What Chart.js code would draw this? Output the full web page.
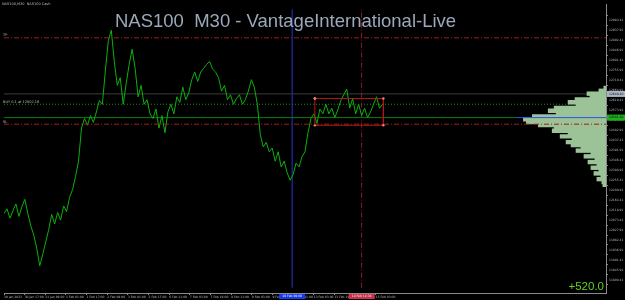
<!DOCTYPE html>
<html>
<head>
<meta charset="utf-8">
<script src="https://cdn.jsdelivr.net/npm/chart.js@4"></script>
<style>
  html, body { margin: 0; padding: 0; background: #000; overflow: hidden; }
  canvas { display: block; }
</style>
</head>
<body>
<canvas id="chart" width="625" height="300"></canvas>
<script>
// NAS100 M30 closes, one sample every few bars
const closes = [
  12103, 12125, 12082, 12116, 12147, 12090, 12134, 12168, 12103, 12047,
  12004, 11943, 11865, 11917, 11973, 12030, 12099, 12056, 12108, 12073,
  12138, 12112, 12177, 12212, 12272, 12342, 12493, 12537, 12506, 12550,
  12519, 12567, 12619, 12602, 12753, 12892, 12940, 12797, 12688, 12723,
  12602, 12697, 12784, 12853, 12766, 12636, 12688, 12602, 12623, 12558,
  12537, 12580, 12493, 12550, 12472, 12567, 12602, 12558, 12636, 12610,
  12680, 12623, 12654, 12714, 12749, 12706, 12749, 12766, 12784, 12797,
  12762, 12749, 12723, 12662, 12688, 12623, 12645, 12602, 12628, 12645,
  12602, 12623, 12662, 12714, 12680, 12602, 12463, 12407, 12428, 12385,
  12402, 12342, 12385, 12316, 12342, 12290, 12255, 12281, 12333, 12316,
  12363, 12385, 12472, 12537, 12558, 12515, 12580, 12558, 12602, 12558,
  12584, 12541, 12576, 12619, 12645, 12671, 12584, 12628, 12558, 12602,
  12550, 12584, 12541, 12567, 12602, 12636, 12584, 12602
];

const dateLabels = [
  "30 Jan 2023", "30 Jan 17:00", "31 Jan 09:00", "1 Feb 01:00", "1 Feb 17:00",
  "2 Feb 09:00", "3 Feb 01:00", "3 Feb 17:00", "6 Feb 11:00", "7 Feb 03:00",
  "7 Feb 19:00", "8 Feb 11:00", "9 Feb 03:00", "9 Feb 19:00", "10 Feb 11:00",
  "13 Feb 03:00", "13 Feb 19:00", "14 Feb 11:00", "15 Feb 03:00"
];
const xTickStep = 6.93;

const priceTicks = [
  12983.41, 12937.91, 12892.41, 12846.91, 12801.41, 12755.91, 12710.41,
  12664.91, 12619.41, 12573.91, 12528.41, 12482.91, 12437.41, 12391.91,
  12346.41, 12300.91, 12255.41, 12209.91, 12164.41, 12118.91, 12073.41,
  12027.91, 11982.41, 11936.91, 11891.41, 11845.91, 11800.41
];

// volume profile (price level -> volume)
const profilePrices = [
  12684, 12671, 12658, 12645, 12632, 12619, 12606, 12593, 12580, 12567,
  12554, 12541, 12528, 12515, 12502, 12489, 12476, 12463, 12450, 12437,
  12424, 12411, 12398, 12385, 12372, 12359, 12346, 12333, 12320, 12307,
  12294, 12281, 12268, 12255, 12242
];
const profileVolumes = [
  2, 7, 19, 16, 31, 38, 30, 52, 58, 50,
  74, 83, 80, 68, 52, 54, 38, 46, 34, 40,
  35, 25, 30, 15, 22, 11, 18, 9, 15, 7,
  12, 5, 9, 4, 3
];

// levels and objects on the chart
const tpLevel = 12905;
const slLevel = 12511;
const askLevel = 12649;
const buyLevel = 12602;
const bidLevel = 12541;
const rectBox = { from: 104.3, to: 127.3, high: 12628, low: 12506 };
const blueTime = 96.7;
const redTime = 120;

const X_MAX = 202, Y_MIN = 11765, Y_MAX = 13035;

const hline = (y, x0 = 0, x1 = X_MAX) => [{ x: x0, y }, { x: x1, y }];
const vline = (x) => [{ x, y: Y_MIN }, { x, y: Y_MAX }];
const flat = { type: "line", pointRadius: 0, borderWidth: 1, fill: false, tension: 0 };

const overlay = {
  id: "overlay",
  beforeDraw(chart) {
    const ctx = chart.ctx;
    ctx.save();
    ctx.fillStyle = "#000";
    ctx.fillRect(0, 0, chart.width, chart.height);
    ctx.restore();
  },
  afterDraw(chart) {
    const ctx = chart.ctx;
    const xs = chart.scales.x, ys = chart.scales.y;
    const area = chart.chartArea;
    ctx.save();

    ctx.fillStyle = "#9aa8ba";
    ctx.font = "18.5px 'Liberation Sans', Arial, sans-serif";
    ctx.textBaseline = "alphabetic";
    ctx.fillText("NAS100  M30 - VantageInternational-Live", 115, 26.7);

    ctx.fillStyle = "#bbbbbb";
    ctx.font = "3.5px 'DejaVu Sans', sans-serif";
    ctx.fillText("NAS100,M30  NAS100 Cash", 2, 5);
    ctx.fillText("TP", 3, ys.getPixelForValue(tpLevel) - 1.5);
    ctx.fillText("BUY 0.1 at 12602.18", 3, ys.getPixelForValue(buyLevel) - 1.5);
    ctx.fillText("SL", 3, ys.getPixelForValue(slLevel) - 1.5);

    ctx.fillStyle = "#5fd11f";
    ctx.font = "11.5px 'Liberation Sans', Arial, sans-serif";
    ctx.textAlign = "right";
    ctx.fillText("+520.0", area.right - 2, 290);

    // right axis price boxes
    ctx.textAlign = "left";
    ctx.textBaseline = "middle";
    ctx.font = "3px 'DejaVu Sans', sans-serif";
    [[askLevel, "#aab6c4", "#111", "12649.20"], [bidLevel, "#1fae1f", "#000", "12541.20"]].forEach(([lvl, bg, fg, txt]) => {
      const y = ys.getPixelForValue(lvl);
      ctx.fillStyle = bg;
      ctx.fillRect(area.right + 1, y - 3, 18, 6);
      ctx.fillStyle = fg;
      ctx.fillText(txt, area.right + 3, y);
    });

    // time boxes on the bottom axis
    ctx.textAlign = "center";
    [[blueTime, "#1838f0", "#fff", "10 Feb 09:00"], [redTime, "#c8304c", "#eee", "14 Feb 14:30"]].forEach(([t, bg, fg, txt]) => {
      const x = xs.getPixelForValue(t);
      ctx.fillStyle = bg;
      ctx.fillRect(x - 13, area.bottom + 1, 26, 5);
      ctx.fillStyle = fg;
      ctx.fillText(txt, x, area.bottom + 3.5);
    });
    ctx.restore();
  }
};

new Chart(document.getElementById("chart"), {
  type: "line",
  data: {
    datasets: [
      { ...flat, data: hline(tpLevel), borderColor: "#a51c1c", borderDash: [5, 2, 1, 2], order: 0 },
      { ...flat, data: hline(slLevel), borderColor: "#a51c1c", borderDash: [5, 2, 1, 2], order: 0 },
      {
        ...flat,
        data: [
          { x: rectBox.from, y: rectBox.high }, { x: rectBox.to, y: rectBox.high },
          { x: rectBox.to, y: rectBox.low }, { x: rectBox.from, y: rectBox.low },
          { x: rectBox.from, y: rectBox.high }
        ],
        borderColor: "#b81616",
        pointRadius: 1.2,
        pointBackgroundColor: "#f08080",
        pointBorderWidth: 0,
        order: 1
      },
      {
        ...flat,
        data: closes.map((c, i) => ({ x: i, y: c })),
        borderColor: "#0cb00c",
        order: 2
      },
      { ...flat, data: hline(bidLevel, 171.7, X_MAX), borderColor: "#3050e8", order: 3 },
      {
        type: "bar",
        indexAxis: "y",
        xAxisID: "x2",
        yAxisID: "y",
        data: profilePrices.map((p, i) => ({ x: profileVolumes[i], y: p })),
        backgroundColor: "#9cc398",
        borderWidth: 0,
        barThickness: 3.4,
        inflateAmount: 0.5,
        order: 4
      },
      { ...flat, data: hline(askLevel), borderColor: "#3c3c3c", order: 5 },
      { ...flat, data: hline(buyLevel), borderColor: "#1f8a1f", borderDash: [1, 2], order: 5 },
      { ...flat, data: hline(bidLevel, 0, 171.7), borderColor: "#0f7a0f", order: 5 },
      { ...flat, data: vline(blueTime), borderColor: "#2434c8", order: 6 },
      { ...flat, data: vline(redTime), borderColor: "#8c1a2c", borderDash: [5, 2, 1, 2], order: 6 }
    ]
  },
  options: {
    responsive: false,
    animation: false,
    devicePixelRatio: 1,
    layout: { padding: 0 },
    plugins: { legend: { display: false }, tooltip: { enabled: false } },
    scales: {
      x: {
        type: "linear",
        min: 0,
        max: X_MAX,
        afterFit: (s) => { s.height = 7; },
        afterBuildTicks: (s) => { s.ticks = dateLabels.map((_, k) => ({ value: k * xTickStep })); },
        ticks: {
          autoSkip: false,
          maxRotation: 0,
          align: "start",
          padding: 0,
          color: "#b8b8b8",
          font: { size: 3, family: "'DejaVu Sans', sans-serif" },
          callback: (v, i) => dateLabels[i]
        },
        grid: { drawOnChartArea: false, tickLength: 2, color: "#8a8a8a" },
        border: { color: "#8a8a8a" }
      },
      x2: {
        type: "linear",
        display: false,
        reverse: true,
        min: 0,
        max: 606
      },
      y: {
        type: "linear",
        position: "right",
        min: Y_MIN,
        max: Y_MAX,
        afterFit: (s) => { s.width = 19; },
        afterBuildTicks: (s) => { s.ticks = priceTicks.map((v) => ({ value: v })); },
        ticks: {
          autoSkip: false,
          padding: 1,
          color: "#b8b8b8",
          font: { size: 3, family: "'DejaVu Sans', sans-serif" },
          callback: (v) => v.toFixed(2)
        },
        grid: { drawOnChartArea: false, tickLength: 2, color: "#8a8a8a" },
        border: { color: "#8a8a8a" }
      }
    }
  },
  plugins: [overlay]
});
</script>
</body>
</html>
